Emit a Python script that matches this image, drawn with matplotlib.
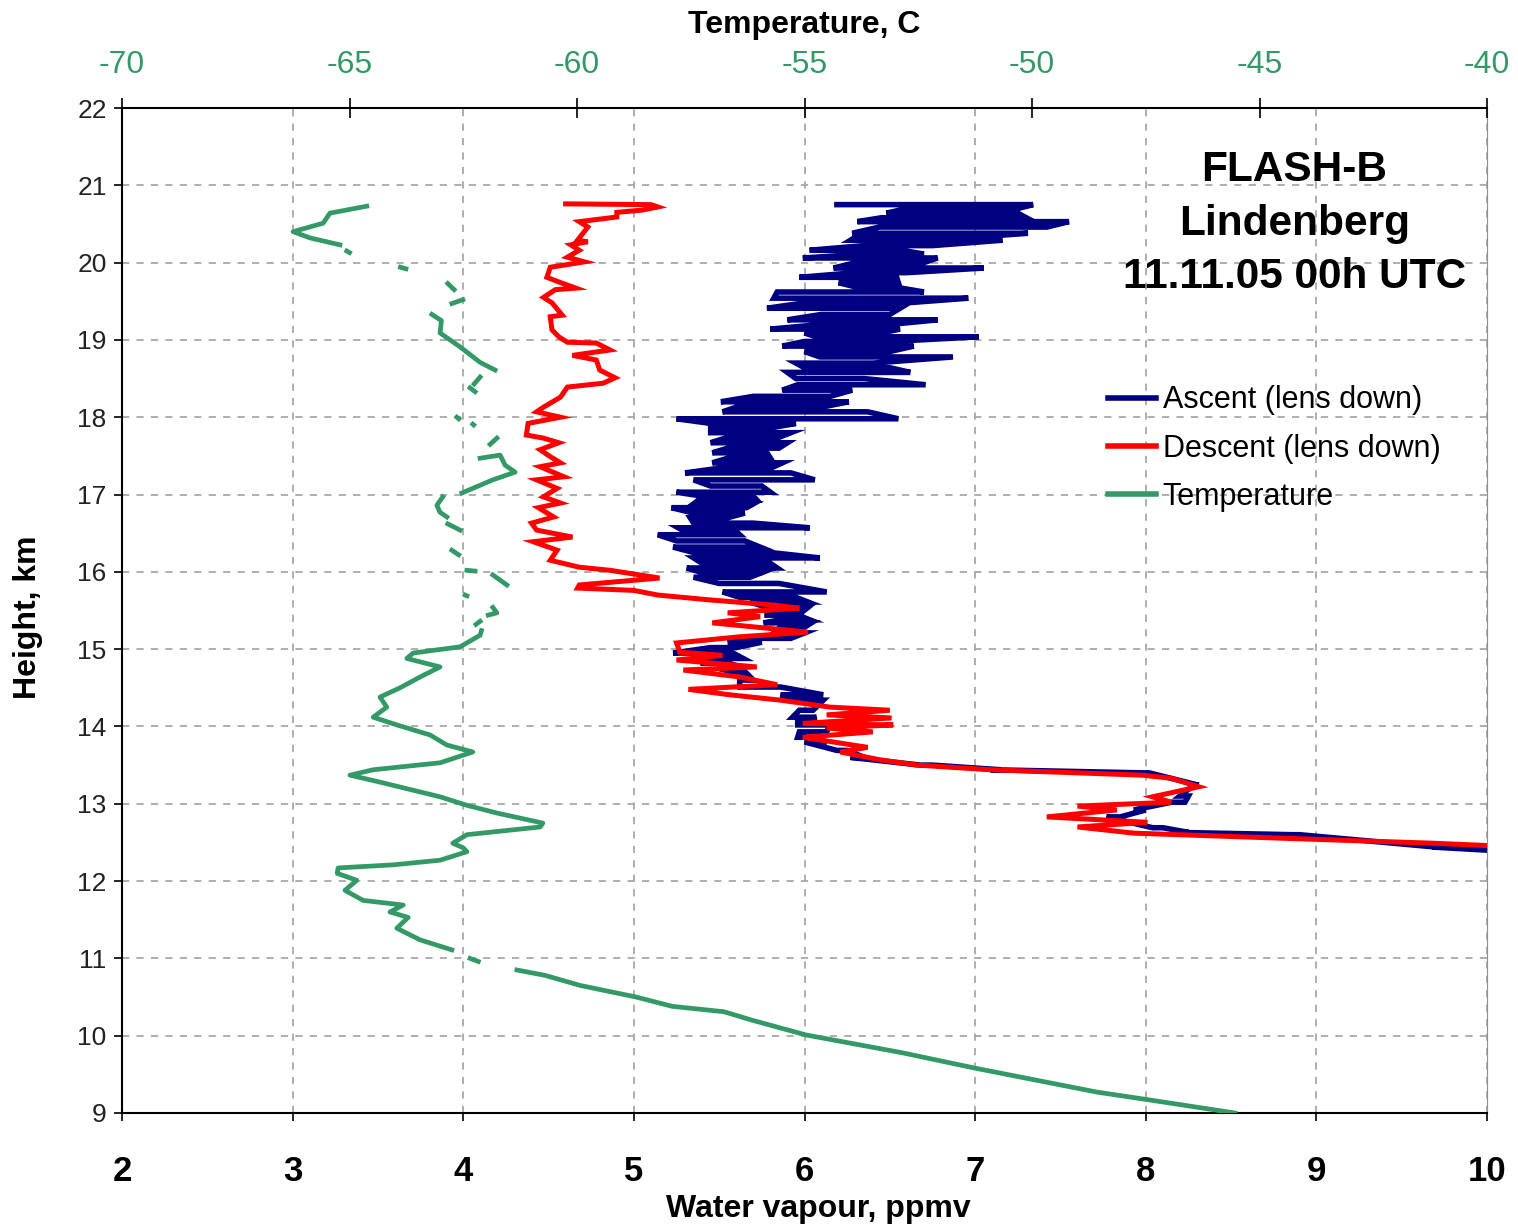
import numpy as np
import matplotlib
matplotlib.use("Agg")
import matplotlib.pyplot as plt
from matplotlib.lines import Line2D

plt.rcParams["font.family"] = ["Liberation Sans", "DejaVu Sans"]

NAVY = "#000080"
RED = "#ff0000"
GREEN = "#339966"

# Ascent: very noisy, stored as one horizontal sweep (lo..hi ppmv) per height
asc_h = [20.75, 20.70, 20.64, 20.58, 20.53, 20.46, 20.38, 20.33, 20.29, 20.22,
         20.16, 20.11, 20.06, 20.00, 19.93, 19.87, 19.81, 19.74, 19.68, 19.62,
         19.54, 19.48, 19.41, 19.33, 19.26, 19.20, 19.14, 19.09, 19.04, 18.98,
         18.92, 18.85, 18.78, 18.70, 18.64, 18.58, 18.50, 18.42, 18.35, 18.27,
         18.20, 18.13, 18.07, 17.98, 17.92, 17.87, 17.80, 17.74, 17.67, 17.60,
         17.54, 17.47, 17.41, 17.34, 17.28, 17.19, 17.11, 17.03, 16.98, 16.93,
         16.88, 16.83, 16.76, 16.70, 16.63, 16.57, 16.52, 16.48, 16.40, 16.32,
         16.25, 16.18, 16.11, 16.05, 15.99, 15.93, 15.85, 15.74, 15.67, 15.61,
         15.54, 15.47, 15.44, 15.38, 15.34, 15.27, 15.21, 15.14, 15.09, 15.02,
         14.95, 14.88, 14.82, 14.75, 14.69, 14.60, 14.51, 14.41, 14.34, 14.21,
         14.12, 14.08, 14.02, 13.93, 13.86, 13.80, 13.69, 13.60, 13.50, 13.44,
         13.40, 13.24, 13.10, 13.02, 12.92, 12.83, 12.69, 12.63, 12.60, 12.44, 12.40]
asc_lo = [6.19, 6.60, 6.48, 6.45, 6.31, 6.44, 6.28, 6.30, 6.27, 6.35,
          6.03, 6.35, 5.99, 6.30, 6.17, 6.30, 5.97, 6.20, 6.31, 5.84,
          5.82, 6.00, 5.78, 6.10, 5.90, 6.10, 5.80, 6.00, 6.07, 6.00,
          5.87, 6.00, 6.09, 5.95, 6.00, 5.90, 5.95, 5.96, 5.87, 5.70,
          5.51, 5.60, 5.52, 5.25, 5.45, 5.45, 5.45, 5.55, 5.45, 5.55,
          5.46, 5.55, 5.46, 5.50, 5.30, 5.35, 5.45, 5.25, 5.40, 5.38,
          5.35, 5.22, 5.35, 5.33, 5.35, 5.26, 5.30, 5.14, 5.25, 5.23,
          5.35, 5.35, 5.40, 5.31, 5.40, 5.35, 5.50, 5.52, 5.62, 5.68,
          5.78, 5.78, 5.78, 5.86, 5.76, 5.85, 5.82, 5.65, 5.55, 5.45,
          5.23, 5.50, 5.39, 5.50, 5.60, 5.62, 5.62, 5.86, 5.95, 5.97,
          5.93, 5.96, 5.96, 5.97, 5.96, 6.00, 6.19, 6.27, 6.68, 7.09,
          7.98, 8.28, 8.20, 8.15, 7.93, 7.77, 8.04, 8.18, 8.86, 9.68, 10.0]
asc_hi = [7.34, 7.25, 7.25, 7.30, 7.55, 7.42, 7.31, 7.00, 7.16, 6.75,
          6.57, 6.70, 6.78, 6.70, 7.05, 6.60, 6.54, 6.55, 6.54, 6.70,
          6.96, 6.60, 6.56, 6.50, 6.78, 6.50, 6.56, 6.45, 7.02, 6.50,
          6.64, 6.50, 6.87, 6.40, 6.50, 6.62, 6.35, 6.71, 6.28, 6.15,
          6.26, 6.10, 6.37, 6.55, 5.95, 5.82, 5.92, 5.85, 5.90, 5.85,
          5.78, 5.80, 5.87, 5.80, 5.92, 6.06, 5.75, 5.80, 5.70, 5.72,
          5.70, 5.66, 5.65, 5.55, 5.70, 6.03, 5.60, 5.62, 5.65, 5.74,
          5.80, 6.09, 5.80, 5.84, 5.75, 5.68, 5.85, 6.13, 5.95, 6.02,
          6.02, 5.98, 5.96, 6.03, 6.04, 5.99, 6.00, 5.92, 5.75, 5.60,
          5.58, 5.64, 5.55, 5.66, 5.66, 5.70, 5.86, 6.11, 6.11, 6.05,
          6.07, 6.02, 6.15, 6.13, 6.00, 6.13, 6.25, 6.35, 6.75, 7.15,
          8.02, 8.31, 8.25, 8.23, 8.00, 7.85, 8.10, 8.25, 8.90, 9.70, 10.0]

# Descent profile
desc_h = [20.76, 20.75, 20.72, 20.68, 20.65, 20.59, 20.53, 20.46, 20.29, 20.27,
          20.23, 20.16, 20.07, 20.01, 19.94, 19.81, 19.75, 19.67, 19.65, 19.55,
          19.48, 19.32, 19.30, 19.13, 19.04, 18.97, 18.96, 18.87, 18.80, 18.74,
          18.61, 18.51, 18.44, 18.39, 18.26, 18.13, 18.07, 18.00, 17.92, 17.77,
          17.73, 17.67, 17.58, 17.49, 17.41, 17.36, 17.23, 17.19, 17.08, 16.97,
          16.89, 16.83, 16.71, 16.63, 16.54, 16.45, 16.39, 16.28, 16.15, 16.06,
          16.02, 15.92, 15.83, 15.79, 15.76, 15.70, 15.64, 15.57, 15.53, 15.47,
          15.42, 15.34, 15.22, 15.16, 15.08, 14.96, 14.92, 14.86, 14.77, 14.73,
          14.64, 14.54, 14.48, 14.41, 14.34, 14.25, 14.21, 14.15, 14.11, 14.04,
          14.02, 13.98, 13.93, 13.86, 13.73, 13.67, 13.57, 13.50, 13.44, 13.37,
          13.33, 13.22, 13.09, 13.02, 12.97, 12.92, 12.83, 12.76, 12.70, 12.62,
          12.57, 12.53, 12.49, 12.46]
desc_x = [4.60, 5.10, 5.14, 5.05, 4.90, 4.90, 4.68, 4.73, 4.67, 4.73,
          4.63, 4.68, 4.61, 4.71, 4.51, 4.49, 4.56, 4.66, 4.54, 4.47,
          4.52, 4.58, 4.51, 4.52, 4.56, 4.61, 4.78, 4.86, 4.64, 4.78,
          4.80, 4.89, 4.82, 4.61, 4.57, 4.47, 4.43, 4.57, 4.38, 4.37,
          4.47, 4.56, 4.45, 4.51, 4.57, 4.45, 4.59, 4.43, 4.55, 4.47,
          4.57, 4.44, 4.53, 4.40, 4.43, 4.64, 4.41, 4.55, 4.51, 4.68,
          4.86, 5.15, 4.68, 4.67, 5.00, 5.14, 5.43, 5.82, 5.97, 5.55,
          5.74, 5.46, 6.02, 5.62, 5.25, 5.27, 5.52, 5.25, 5.72, 5.29,
          5.62, 5.84, 5.32, 5.56, 5.86, 6.15, 6.50, 6.13, 6.51, 5.99,
          6.52, 6.13, 6.40, 5.99, 6.37, 6.21, 6.44, 6.66, 7.09, 7.98,
          8.15, 8.31, 8.04, 8.15, 7.60, 7.83, 7.42, 8.01, 7.60, 7.93,
          8.59, 9.13, 9.68, 10.0]

# Temperature (top axis); nan marks gaps in the record
nan = np.nan
temp_h = [20.73, 20.64, 20.51, 20.40, 20.32, 20.23, nan,
          20.15, 20.13, nan, 19.94, 19.92, nan, 19.73, 19.65, nan, 19.47, 19.52, nan,
          19.33, 19.25, 19.09, 18.91, 18.71, 18.61, nan,
          18.52, 18.43, nan, 18.38, 18.33, nan, 18.00, 17.98, nan, 17.91, 17.90, nan,
          17.73, 17.65, nan,
          17.47, 17.51, 17.38, 17.29, 17.19, 17.02, nan,
          16.97, 16.86, 16.77, 16.71, nan, 16.62, 16.54, nan, 16.28, 16.22, nan,
          16.02, 16.01, nan, 15.96, 15.83, nan, 15.70, 15.69, nan,
          15.54, 15.47, 15.44, nan, 15.36, 15.32, nan,
          15.24, 15.18, 15.03, 14.95, 14.88, 14.77, 14.64, 14.50, 14.38, 14.25,
          14.12, 14.02, 13.89, 13.76, 13.67, 13.53, 13.44, 13.37, 13.28, 13.09,
          12.98, 12.88, 12.75, 12.70, 12.60, 12.49, 12.43, 12.38, 12.27, 12.21,
          12.17, 12.10, 12.01, 11.88, 11.75, 11.69, 11.60, 11.53, 11.39, 11.24,
          11.11, nan, 11.00, 10.96, nan,
          10.85, 10.78, 10.65, 10.50, 10.38, 10.31, 10.20, 10.01, 9.78, 9.58,
          9.27, 9.17, 9.00]
temp_c = [-64.62, -65.43, -65.58, -66.24, -65.87, -65.21, nan,
          -65.06, -65.00, nan, -63.88, -63.76, nan, -62.84, -62.70, nan, -62.75, -62.51, nan,
          -63.19, -62.98, -63.01, -62.57, -62.13, -61.80, nan,
          -62.13, -62.26, nan, -62.35, -62.24, nan, -62.64, -62.60, nan, -62.29, -62.27, nan,
          -61.76, -61.91, nan,
          -62.13, -61.69, -61.58, -61.36, -61.85, -62.53, nan,
          -62.95, -63.08, -63.01, -62.86, nan, -62.84, -62.57, nan, -62.75, -62.60, nan,
          -62.42, -62.24, nan, -61.85, -61.54, nan, -62.46, -62.42, nan,
          -61.85, -61.76, -61.95, nan, -62.13, -62.22, nan,
          -62.10, -62.13, -62.57, -63.60, -63.74, -63.01, -63.45, -63.89, -64.33, -64.18,
          -64.48, -63.96, -63.23, -62.86, -62.29, -63.01, -64.48, -64.99, -64.33, -63.01,
          -62.42, -61.76, -60.75, -60.81, -62.42, -62.73, -62.50, -62.42, -63.01, -64.04,
          -65.25, -65.27, -64.84, -65.10, -64.70, -63.82, -64.11, -63.71, -63.96, -63.45,
          -62.75, nan, -62.35, -62.17, nan,
          -61.32, -60.70, -59.93, -58.70, -57.91, -56.77, -56.15, -54.97, -52.86, -51.25,
          -48.57, -47.43, -45.54]

wv_ticks = [2, 3, 4, 5, 6, 7, 8, 9, 10]
h_ticks = list(range(9, 23))
t_ticks = [-70, -65, -60, -55, -50, -45, -40]

# zig-zag path through the ascent sweeps
asc_x, asc_y = [], []
for i, (h, lo, hi) in enumerate(zip(asc_h, asc_lo, asc_hi)):
    a, b = (lo, hi) if i % 2 == 0 else (hi, lo)
    asc_x += [a, b]
    asc_y += [h, h]

fig = plt.figure(figsize=(15.18, 12.30), dpi=100)
ax = fig.add_axes([122 / 1518, 1 - 1113 / 1230, 1365 / 1518, 1005 / 1230])
ax.set_xlim(2, 10)
ax.set_ylim(9, 22)
ax.set_xticks(wv_ticks)
ax.set_yticks(h_ticks)
ax.set_xticklabels([str(v) for v in wv_ticks], fontsize=25, fontweight="bold")
ax.set_yticklabels([str(v) for v in h_ticks], fontsize=19, color="#222222")
ax.tick_params(axis="x", direction="out", length=6, width=1.2, pad=24)
ax.tick_params(axis="y", direction="out", length=6, width=1.2, pad=5)
ax.grid(True, color="#a8a8a8", linestyle=(0, (4, 4)), linewidth=1.3)
ax.set_axisbelow(True)
for s in ["left", "bottom"]:
    ax.spines[s].set_linewidth(1.5)
ax.spines["right"].set_color("#909090")
ax.spines["top"].set_visible(False)

ax.plot(asc_x, asc_y, color=NAVY, lw=4.0, solid_joinstyle="miter")
ax.plot(desc_x, desc_h, color=RED, lw=3.6, solid_joinstyle="miter")

ax2 = ax.twiny()
ax2.set_xlim(-70, -40)
ax2.set_xticks(t_ticks)
ax2.set_xticklabels([str(v) for v in t_ticks], fontsize=23, color=GREEN)
ax2.tick_params(axis="x", direction="inout", length=14, width=1.2, pad=13)
ax2.spines["top"].set_linewidth(1.5)
for s in ["left", "right", "bottom"]:
    ax2.spines[s].set_visible(False)
ax2.plot(temp_c, temp_h, color=GREEN, lw=3.4)

handles = [Line2D([], [], color=NAVY, lw=4),
           Line2D([], [], color=RED, lw=4),
           Line2D([], [], color=GREEN, lw=4)]
ax2.legend(handles, ["Ascent (lens down)", "Descent (lens down)", "Temperature"],
           loc="upper left", bbox_to_anchor=(0.722, 0.724), frameon=False,
           fontsize=22, handlelength=1.6, handletextpad=0.2, labelspacing=0.6,
           borderpad=0, borderaxespad=0)

ax2.text(0.859, 0.958, "FLASH-B\nLindenberg\n11.11.05 00h UTC", transform=ax2.transAxes,
         ha="center", va="top", fontsize=30.5, fontweight="bold", linespacing=1.44)

fig.text(804 / 1518, 1 - 25 / 1230, "Temperature, C", ha="center", va="center",
         fontsize=23, fontweight="bold")
fig.text(818 / 1518, 1 - 1209 / 1230, "Water vapour, ppmv", ha="center", va="center",
         fontsize=23, fontweight="bold")
fig.text(28 / 1518, 1 - 617 / 1230, "Height, km", ha="center", va="center",
         rotation=90, fontsize=23, fontweight="bold")

fig.savefig("out.png", dpi=100)
